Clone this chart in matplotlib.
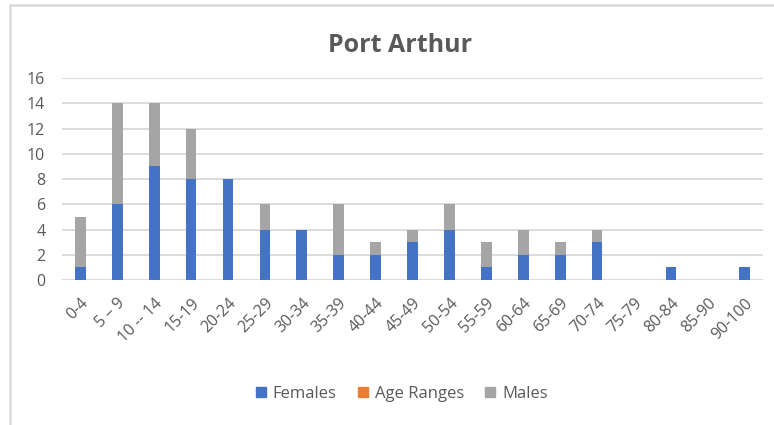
import numpy as np
import matplotlib.pyplot as plt
from matplotlib.patches import Patch, Rectangle

ages = ['0-4', '5 – 9', '10 -- 14', '15-19', '20-24', '25-29', '30-34', '35-39',
        '40-44', '45-49', '50-54', '55-59', '60-64', '65-69', '70-74', '75-79',
        '80-84', '85-90', '90-100']
females = [1, 6, 9, 8, 8, 4, 4, 2, 2, 3, 4, 1, 2, 2, 3, 0, 1, 0, 1]
males = [4, 8, 5, 4, 0, 2, 0, 4, 1, 1, 2, 2, 2, 1, 1, 0, 0, 0, 0]

blue = '#4472C4'
orange = '#ED7D31'
grey = '#A5A5A5'
text_col = '#595959'

plt.rcParams['font.family'] = ['Open Sans', 'DejaVu Sans']

fig = plt.figure(figsize=(7.74, 4.25), dpi=100)
ax = fig.add_axes([0.080, 0.341, 0.906, 0.4755])

x = np.arange(len(ages))
w = 0.29
ax.bar(x, females, w, color=blue, zorder=3)
ax.bar(x, males, w, bottom=females, color=grey, zorder=3)

ax.set_xlim(-0.5, len(ages) - 0.5)
ax.set_ylim(0, 16)
ax.set_yticks(range(0, 17, 2))
ax.grid(axis='y', color='#D9D9D9', linewidth=1.3, zorder=0)
for s in ax.spines.values():
    s.set_visible(False)
ax.tick_params(axis='both', length=0, colors=text_col, labelsize=11.5)
ax.tick_params(axis='y', pad=12)
ax.set_xticks(x)
ax.set_xticklabels(ages, rotation=45, ha='right', rotation_mode='anchor')
ax.tick_params(axis='x', pad=11)

fig.text(0.517, 0.878, 'Port Arthur', ha='center', va='baseline',
         fontsize=18, fontweight='bold', color=text_col)

handles = [Patch(color=blue), Patch(color=orange), Patch(color=grey)]
fig.legend(handles, ['Females', 'Age Ranges', 'Males'], loc='center',
           bbox_to_anchor=(0.519, 0.073), ncol=3, frameon=False,
           fontsize=12, labelcolor=text_col, handlelength=0.6,
           handleheight=0.6, handletextpad=0.4, columnspacing=1.3)

# light outer frame of the chart area (top and left edges visible)
fig.patches.append(Rectangle((10 / 774, -0.1), 1.2, 1.1 - 5 / 425,
                             transform=fig.transFigure, fill=False,
                             edgecolor='#D9D9D9', linewidth=1.8))

fig.savefig('out.png', dpi=100)
